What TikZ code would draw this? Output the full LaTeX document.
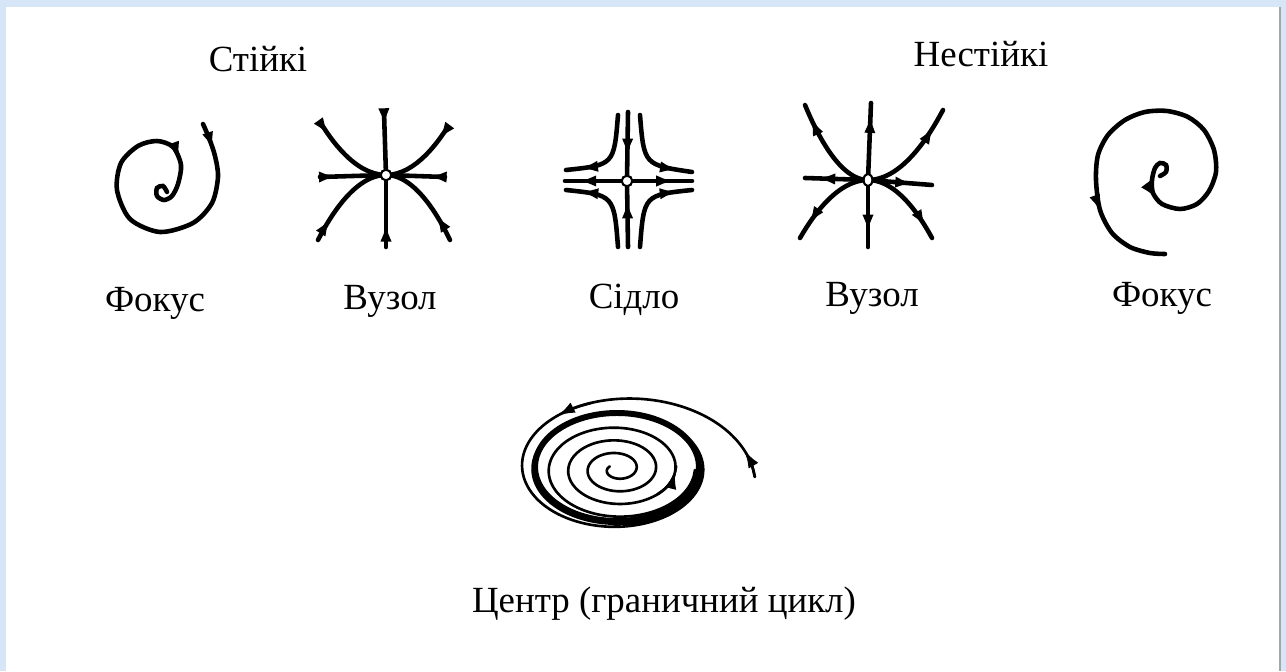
\documentclass[tikz,border=0pt]{standalone}
\usepackage{fontspec}
\setmainfont{Liberation Serif}
\usetikzlibrary{arrows.meta, decorations.markings, shapes.geometric}

\definecolor{framebg}{RGB}{214,230,247}

\begin{document}
\begin{tikzpicture}[
    x=0.02cm, y=-0.02cm,
    >={Latex[length=10pt,width=6.5pt]},
    traj/.style={line width=2.6pt, line cap=round},
    thintraj/.style={line width=1.5pt, line cap=round},
    limcyc/.style={line width=3.4pt},
    arrat/.style={postaction={decorate, decoration={markings,
        mark=at position #1 with {\arrow{>}}}}},
    fixpt/.style={circle, draw, fill=white, line width=1.2pt,
        inner sep=0pt, minimum size=6pt},
    lbl/.style={anchor=base, font=\fontsize{21}{25}\selectfont}
]
  % frame
  \fill[framebg] (0,0) rectangle (1286,671);
  \fill[white] (6,7) rectangle (1280,671);
  \draw[gray!70, line width=0.8pt] (1280,7) -- (1280,671);

  % headings
  \node[lbl] (stable) at (258,72) {Стійкі};
  \node[lbl] (unstable) at (981,67) {Нестійкі};

  % stable focus
  \draw[traj, arrat=0.07, arrat=0.8] plot[smooth] coordinates {
    (203,124) (209,138) (215,156) (218,177) (212,203) (193,223)
    (160,232) (130,219) (117,190) (121,163) (138,146) (157,141)
    (173,147) (181,165) (178,184) (172,196) (164,200) (157,196)
    (157,188) (163,186) (167,192)};
  \node[lbl] (focusA) at (155,312) {Фокус};

  % stable node
  \coordinate (nA) at (386,175);
  \draw[traj, arrat=0.22] (384,112) -- (nA);
  \draw[traj, arrat=0.32] (386,247) -- (nA);
  \draw[traj, arrat=0.25] (320,177) -- (nA);
  \draw[traj, arrat=0.27] (445,177) -- (nA);
  \draw[traj, arrat=0.14] (322,125) parabola[bend at end] (nA);
  \draw[traj, arrat=0.17] (447,128) parabola[bend at end] (nA);
  \draw[traj, arrat=0.25] (318,240) parabola[bend at end] (nA);
  \draw[traj, arrat=0.3] (450,240) parabola[bend at end] (nA);
  \node[fixpt] (nAdot) at (nA) {};
  \node[lbl] (nodeA) at (390,310) {Вузол};

  % saddle
  \coordinate (sd) at (627,181);
  \draw[traj, arrat=0.64] (628,112) -- (sd);
  \draw[traj, arrat=0.7] (628,247) -- (sd);
  \draw[traj, arrat=0.78] (sd) -- (565,181);
  \draw[traj, arrat=0.72] (sd) -- (692,181);
  \draw[traj, arrat=0.84] (618,115) .. controls (614,165) .. (566,170);
  \draw[traj, arrat=0.84] (640,115) .. controls (644,165) .. (692,172);
  \draw[traj, arrat=0.84] (618,247) .. controls (614,195) .. (566,190);
  \draw[traj, arrat=0.84] (640,247) .. controls (644,195) .. (692,190);
  \node[fixpt] (sddot) at (sd) {};
  \node[lbl] (saddle) at (634,309) {Сідло};

  % unstable node
  \coordinate (nB) at (868,180);
  \draw[traj, arrat=0.84] (nB) -- (871,103);
  \draw[traj, arrat=0.78] (nB) -- (868,247);
  \draw[traj, arrat=0.8] (nB) -- (805,178);
  \draw[traj, arrat=0.7] (nB) -- (932,185);
  \draw[traj, arrat=0.86] (nB) parabola (805,105);
  \draw[traj, arrat=0.82] (nB) parabola (943,110);
  \draw[traj, arrat=0.82] (nB) parabola (800,238);
  \draw[traj, arrat=0.86] (nB) parabola (932,238);
  \node[fixpt, ellipse, minimum width=5pt, minimum height=7pt] (nBdot) at (nB) {};
  \node[lbl] (nodeB) at (872,307) {Вузол};

  % unstable focus
  \draw[traj, arrat=0.13, arrat=0.82] plot[smooth] coordinates {
    (1160,176) (1166,172) (1166,165) (1160,163) (1155,168) (1152,180)
    (1153,193) (1162,204) (1180,209) (1197,204) (1209,191) (1216,172)
    (1214,150) (1204,130) (1188,117) (1167,111) (1145,112) (1125,120)
    (1108,135) (1098,155) (1096,180) (1100,210) (1112,233) (1130,247)
    (1150,253) (1165,254)};
  \node[lbl] (focusB) at (1162,307) {Фокус};

  % limit cycle
  \draw[limcyc] (617,467) ellipse [x radius=82, y radius=54];
  \draw[thintraj] plot[domain=0.42:4, samples=200, smooth]
    ({617+19.5*\x*cos(360*\x)}, {469-12.7*\x*sin(360*\x)});
  \draw[thintraj, ->] plot[domain=2.88:2.99, samples=5, smooth]
    ({617+19.5*\x*cos(360*\x)}, {469-12.7*\x*sin(360*\x)});
  \draw[thintraj] plot[domain=-0.014:2, samples=200, smooth]
    ({617+(84+52*exp(-3.1416*\x))*cos(360*\x)}, {469-0.65*(84+52*exp(-3.1416*\x))*sin(360*\x)});
  \draw[thintraj, ->] plot[domain=-0.014:0.035, samples=4, smooth]
    ({617+(84+52*exp(-3.1416*\x))*cos(360*\x)}, {469-0.65*(84+52*exp(-3.1416*\x))*sin(360*\x)});
  \draw[thintraj, ->] plot[domain=0.29:0.35, samples=4, smooth]
    ({617+(84+52*exp(-3.1416*\x))*cos(360*\x)}, {469-0.65*(84+52*exp(-3.1416*\x))*sin(360*\x)});
  \node[lbl] (cycle) at (664,613) {Центр (граничний цикл)};

  \useasboundingbox (0,0) rectangle (1286,671);
\end{tikzpicture}
\end{document}
